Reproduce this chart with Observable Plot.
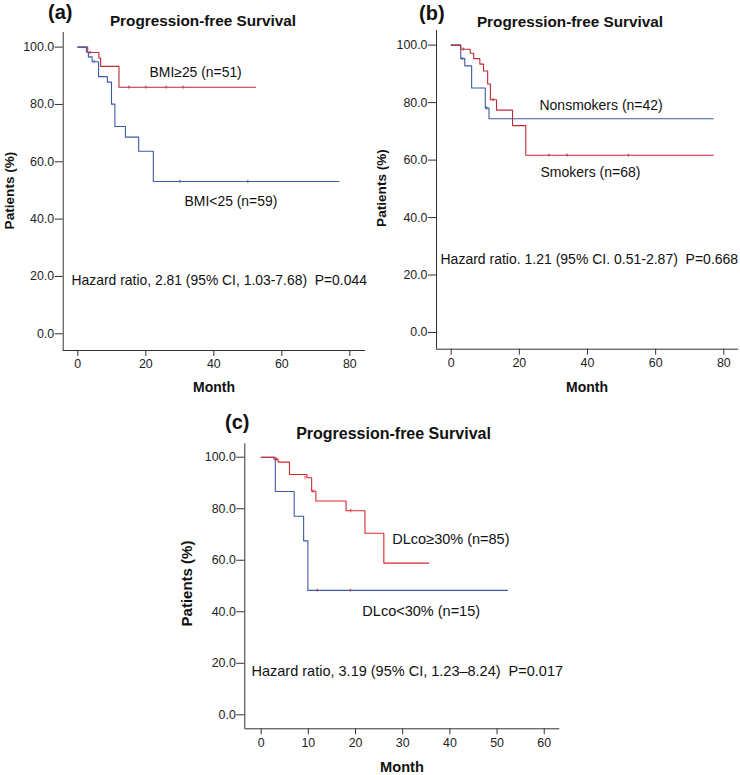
<!DOCTYPE html>
<html>
<head>
<meta charset="utf-8">
<script src="https://cdn.jsdelivr.net/npm/d3@7"></script>
<script src="https://cdn.jsdelivr.net/npm/@observablehq/plot@0.6"></script>
<style>
  html, body { margin: 0; padding: 0; background: #fff; }
  #root { position: relative; width: 740px; height: 775px; background: #fff; overflow: hidden; }
  .panel { position: absolute; }
  #overlay { position: absolute; left: 0; top: 0; pointer-events: none; }
</style>
</head>
<body>
<div id="root"></div>
<script>
// ---------------- DATA ----------------
const yTicks = [0, 20, 40, 60, 80, 100];
const xTicksAB = [0, 20, 40, 60, 80];
const xTicksC = [0, 10, 20, 30, 40, 50, 60];

// Panel (a): BMI
const aHighTime = [0, 2.9, 6.2, 6.7, 12.1, 52.3];
const aHighSurv = [100, 98.1, 96.2, 93.3, 86.0, 86.0];
const aLowTime  = [0, 2.5, 3.1, 4.2, 6.1, 8.7, 9.9, 10.9, 14.0, 17.9, 22.2, 76.8];
const aLowSurv  = [100, 98.3, 96.6, 94.9, 89.7, 87.8, 80.1, 72.3, 68.6, 63.7, 53.1, 53.1];
const aHighCensorTime = [3.6, 15, 20, 26, 31];
const aHighCensorSurv = [98.1, 86.0, 86.0, 86.0, 86.0];
const aLowCensorTime  = [4.8, 30, 50];
const aLowCensorSurv  = [94.9, 53.1, 53.1];

// Panel (b): smoking
const bSmokTime = [0, 2.8, 5.6, 6.6, 8.4, 9.5, 10.7, 11.5, 13.3, 18.0, 21.9, 76.9];
const bSmokSurv = [100, 98.6, 97.2, 95.3, 93.4, 91.0, 86.5, 81.0, 77.4, 72.0, 61.7, 61.7];
const bNonTime  = [0, 2.8, 4.0, 6.0, 10.0, 11.1, 76.9];
const bNonSurv  = [100, 95.3, 92.8, 85.1, 78.1, 74.4, 74.4];
const bSmokCensorTime = [3.6, 12.3, 28.7, 34, 52];
const bSmokCensorSurv = [98.6, 81.0, 61.7, 61.7, 61.7];
const bNonCensorTime  = [3.2, 10.4];
const bNonCensorSurv  = [95.3, 78.1];

// Panel (c): DLco
const cHighTime = [0, 2.7, 3.6, 6.0, 9.7, 10.7, 11.6, 18.0, 22.0, 26.0, 35.5];
const cHighSurv = [100, 99.2, 98.1, 93.3, 92.0, 86.8, 83.0, 79.2, 70.5, 58.9, 58.9];
const cLowTime  = [0, 3.0, 7.0, 9.0, 9.9, 52.2];
const cLowSurv  = [100, 86.7, 77.1, 67.5, 48.3, 48.3];
const cHighCensorTime = [3.3, 9.3, 11.0, 19.0, 11.9, 18.9];
const cHighCensorSurv = [99.2, 92.0, 86.8, 79.2, 48.3, 48.3];

// Texts
const titleText = "Progression-free Survival";
const aLabels = ["BMI\u226525 (n=51)", "BMI<25 (n=59)", "Hazard ratio, 2.81 (95% CI, 1.03-7.68) \u00a0P=0.044"];
const aLabelX = [21.1, 31.4, -1.85];
const aLabelY = [91.3, 46.3, 18.4];
const bLabels = ["Nonsmokers (n=42)", "Smokers (n=68)", "Hazard ratio. 1.21 (95% CI. 0.51-2.87) \u00a0P=0.668"];
const bLabelX = [25.9, 26.2, -3.14];
const bLabelY = [79.1, 55.8, 25.5];
const cLabels = ["DLco\u226530% (n=85)", "DLco<30% (n=15)", "Hazard ratio, 3.19 (95% CI, 1.23\u20138.24) \u00a0P=0.017"];
const cLabelX = [27.8, 21.45, -2.05];
const cLabelY = [68.2, 40.3, 17.0];

// ---------------- STYLE ----------------
const RED_AB = "#bd2a38";
const RED_C = "#d8282e";
const BLUE = "#3d5aa6";
const FONT = "'Liberation Sans', Arial, Helvetica, sans-serif";

const zip = (t, s) => t.map((d, i) => ({t: d, s: s[i]}));
const labelRows = (txt, xs, ys) => txt.map((d, i) => ({text: d, x: xs[i], y: ys[i]}));

function panel(opts) {
  const {left, top, width, height, mL, mR, mT, mB, xDomain, yDomain, xTicks, curves, censors, labels, labelSize} = opts;
  const marks = [
    Plot.axisX({ticks: xTicks, tickSize: 6, tickPadding: 3, label: null, stroke: "#333", fill: "#222", fontSize: 12.4}),
    Plot.axisY({ticks: yTicks, tickSize: 8, tickPadding: 1, label: null, tickFormat: d3.format(".1f"), stroke: "#333", fill: "#222", fontSize: 12.4}),
    Plot.ruleX([xDomain[0]], {stroke: "#333", strokeWidth: 1}),
    Plot.ruleY([yDomain[0]], {stroke: "#333", strokeWidth: 1}),
  ];
  for (const c of curves) {
    marks.push(Plot.line(c.data, {x: "t", y: "s", curve: "step-after", stroke: c.color, strokeWidth: 1.1}));
  }
  for (const c of censors) {
    marks.push(Plot.vector(c.data, {x: "t", y: "s", length: 2.6, rotate: 0, anchor: "middle", stroke: c.color, strokeWidth: 0.8, strokeOpacity: 0.8}));
  }
  marks.push(Plot.text(labels, {x: "x", y: "y", text: "text", textAnchor: "start", lineAnchor: "middle", fontSize: labelSize, fill: "#111"}));
  const svg = Plot.plot({
    width, height,
    marginLeft: mL, marginRight: mR, marginTop: mT, marginBottom: mB,
    x: {domain: xDomain},
    y: {domain: yDomain},
    style: {fontFamily: FONT, background: "transparent", overflow: "visible", color: "#222"},
    marks
  });
  svg.classList.add("panel");
  svg.style.left = left + "px";
  svg.style.top = top + "px";
  svg.style.overflow = "visible";
  document.getElementById("root").appendChild(svg);
}

panel({
  left: 0, top: 0, width: 370, height: 400, mL: 62.7, mR: 5, mT: 32, mB: 50,
  xDomain: [-4.3, 84.6], yDomain: [-5.83, 105.1], xTicks: xTicksAB,
  curves: [
    {data: zip(aHighTime, aHighSurv), color: RED_AB},
    {data: zip(aLowTime, aLowSurv), color: BLUE}
  ],
  censors: [
    {data: zip(aHighCensorTime, aHighCensorSurv), color: RED_AB},
    {data: zip(aLowCensorTime, aLowCensorSurv), color: BLUE}
  ],
  labels: labelRows(aLabels, aLabelX, aLabelY), labelSize: 13.9
});

panel({
  left: 370, top: 0, width: 370, height: 400, mL: 66, mR: 1.7, mT: 30, mB: 51.3,
  xDomain: [-4.31, 84.4], yDomain: [-5.81, 105.1], xTicks: xTicksAB,
  curves: [
    {data: zip(bNonTime, bNonSurv), color: BLUE},
    {data: zip(bSmokTime, bSmokSurv), color: RED_AB}
  ],
  censors: [
    {data: zip(bSmokCensorTime, bSmokCensorSurv), color: RED_AB},
    {data: zip(bNonCensorTime, bNonCensorSurv), color: BLUE}
  ],
  labels: labelRows(bLabels, bLabelX, bLabelY), labelSize: 14
});

panel({
  left: 190, top: 400, width: 380, height: 375, mL: 54.3, mR: 10.7, mT: 43.3, mB: 46.7,
  xDomain: [-3.47, 63.3], yDomain: [-5.43, 105.2], xTicks: xTicksC,
  curves: [
    {data: zip(cLowTime, cLowSurv), color: BLUE},
    {data: zip(cHighTime, cHighSurv), color: RED_C}
  ],
  censors: [
    {data: zip(cHighCensorTime, cHighCensorSurv), color: RED_C}
  ],
  labels: labelRows(cLabels, cLabelX, cLabelY), labelSize: 14.5
});

// ---------------- OVERLAY TEXT (titles, panel letters, axis titles) ----------------
const ov = d3.select("#root").append("svg")
  .attr("id", "overlay").attr("width", 740).attr("height", 775)
  .style("font-family", FONT);

const letters = [
  {text: "(a)", x: 48, y: 19},
  {text: "(b)", x: 419, y: 19.5},
  {text: "(c)", x: 225, y: 429}
];
ov.selectAll("text.letter").data(letters).join("text")
  .attr("class", "letter").attr("x", d => d.x).attr("y", d => d.y)
  .attr("font-size", 20).attr("font-weight", "bold").attr("fill", "#111").text(d => d.text);

const titles = [
  {x: 203, y: 26, size: 15.3},
  {x: 570, y: 27, size: 15.3},
  {x: 393.5, y: 439, size: 16}
];
ov.selectAll("text.title").data(titles).join("text")
  .attr("class", "title").attr("x", d => d.x).attr("y", d => d.y)
  .attr("text-anchor", "middle").attr("font-size", d => d.size).attr("font-weight", "bold")
  .attr("fill", "#111").text(titleText);

const xTitles = [
  {x: 214, y: 391.5, size: 14},
  {x: 587, y: 391.5, size: 14},
  {x: 402, y: 772, size: 14.6}
];
ov.selectAll("text.xt").data(xTitles).join("text")
  .attr("class", "xt").attr("x", d => d.x).attr("y", d => d.y)
  .attr("text-anchor", "middle").attr("font-size", d => d.size).attr("font-weight", "bold")
  .attr("fill", "#111").text("Month");

const yTitles = [
  {x: 13.5, y: 190.5, size: 13.6},
  {x: 386, y: 188, size: 13.6},
  {x: 192, y: 583.5, size: 15}
];
ov.selectAll("text.yt").data(yTitles).join("text")
  .attr("class", "yt")
  .attr("transform", d => `translate(${d.x},${d.y}) rotate(-90)`)
  .attr("text-anchor", "middle").attr("font-size", d => d.size).attr("font-weight", "bold")
  .attr("fill", "#111").text("Patients (%)");
</script>
</body>
</html>
